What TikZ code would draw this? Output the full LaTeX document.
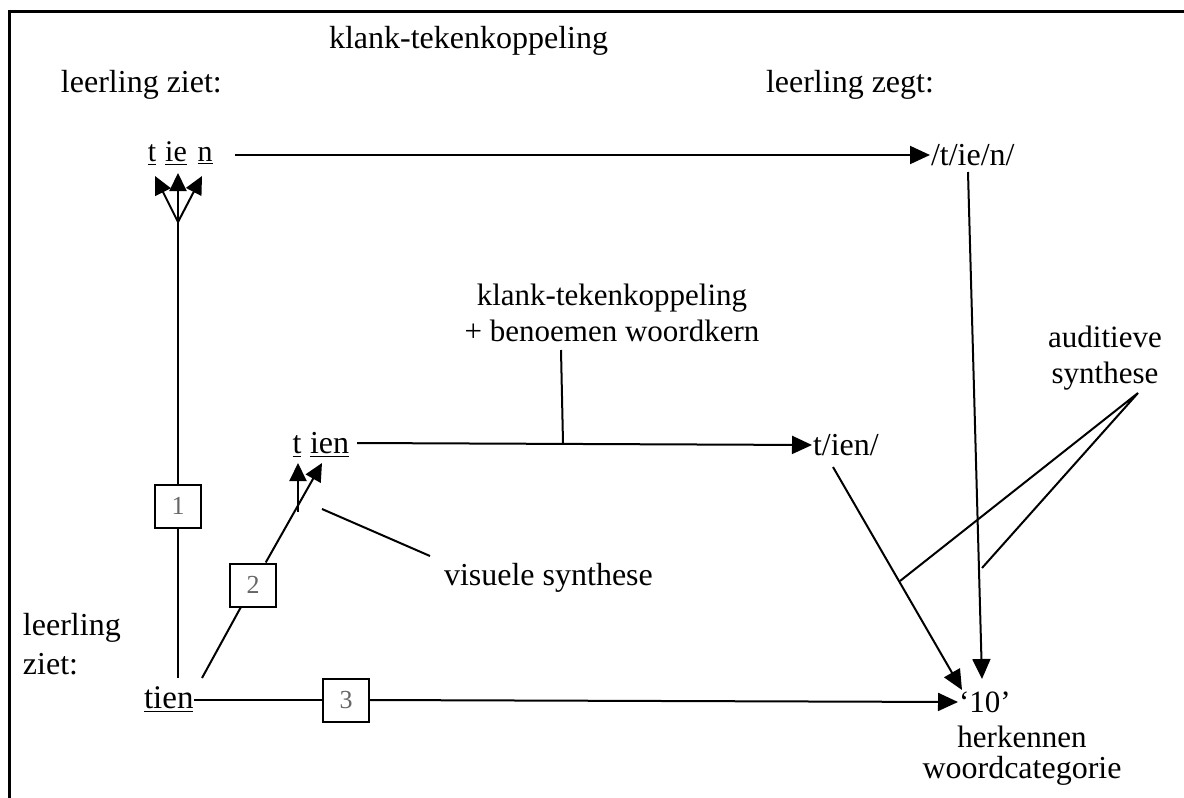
\documentclass[tikz,border=0pt]{standalone}
\usepackage{fontspec}
\setmainfont{Liberation Serif}
\usetikzlibrary{arrows.meta}
\begin{document}
\begin{tikzpicture}[x=0.5pt,y=-0.5pt, line width=1pt,
  txt/.style={inner sep=0pt, font=\fontsize{15.5}{18}\selectfont},
  toptxt/.style={inner sep=0pt, font=\fontsize{16}{19}\selectfont},
  bigtxt/.style={inner sep=0pt, font=\fontsize{16}{19.5}\selectfont},
  numbox/.style={draw, minimum width=23pt, minimum height=21.5pt, inner sep=0pt, font=\fontsize{13}{15}\selectfont, text=black!60},
  arr/.style={-{Triangle[length=10pt,width=9pt]}},
  sarr/.style={-{Triangle[length=9pt,width=8.5pt]}}]
\useasboundingbox (0,0) rectangle (1184,798);
\draw[line width=1.5pt] (9,798) -- (9,11) -- (1184,11);
% top labels
\node[toptxt, anchor=west] (klank1) at (328,41) {klank-tekenkoppeling};
\node[toptxt, anchor=west] (ziet1) at (60,85) {leerling ziet:};
\node[toptxt, anchor=west] (zegt) at (765,85) {leerling zegt:};
% t ie n
\node[txt, font=\fontsize{15}{18}\selectfont, anchor=base] (t1) at (152,161) {\underline{t}};
\node[txt, font=\fontsize{15}{18}\selectfont, anchor=base] (ie1) at (176,161) {\underline{ie}};
\node[txt, font=\fontsize{15}{18}\selectfont, anchor=base] (n1) at (205,161) {\underline{n}};
\node[bigtxt, anchor=west] (say1) at (930,155) {/t/ie/n/};
\coordinate (s1) at (235,155);
\draw[arr] (s1) -- (say1.west);
% junction and arrows up
\coordinate (j) at (178,222);
\coordinate (tt) at (155,176);
\coordinate (ti) at (178,173);
\coordinate (tn) at (202,176);
\draw[sarr] (j) -- (tt);
\draw[sarr] (j) -- (tn);
\draw[sarr] (j) -- (ti);
% box 1
\node[numbox] (b1) at (178,506) {1};
\coordinate (tienL) at (178,678);
\draw (j) -- (b1.north);
\draw (b1.south) -- (tienL);
% middle klank
\node[txt, align=center] (klank2) at (612,313) {klank-tekenkoppeling\\+ benoemen woordkern};
\node[bigtxt, anchor=base] (t2) at (297,453) {\underline{t}};
\node[bigtxt, anchor=base west] (ien2) at (309,453) {\underline{ien}};
\node[bigtxt, anchor=west] (say2) at (812,445) {t/ien/};
\coordinate (s2) at (357,443);
\coordinate (m2) at (563,443);
\draw[arr] (s2) -- (say2.west);
\coordinate (k2s) at (561,350);
\draw (k2s) -- (m2);
% arrows to t ien
\coordinate (v0) at (298,512);
\coordinate (vt) at (298,463);
\draw[sarr] (v0) -- (vt);
\node[numbox] (b2) at (253,585) {2};
\coordinate (tienR) at (202,678);
\coordinate (ti2) at (322,463);
\draw (tienR) -- (b2);
\draw[sarr] (b2) -- (ti2);
% visuele synthese
\node[bigtxt, anchor=west] (vis) at (443,578) {visuele synthese};
\coordinate (v1) at (322,509);
\coordinate (v2) at (430,556);
\draw (v1) -- (v2);
% leerling ziet bottom
\node[bigtxt, anchor=north west, align=left] (ziet2) at (22,612) {leerling\\ziet:};
\node[bigtxt, font=\fontsize{16.5}{19.5}\selectfont, anchor=west] (tien) at (143,700) {\underline{tien}};
\node[numbox] (b3) at (346,700) {3};
\draw (tien.east) -- (b3.west);
\node[txt, anchor=west] (ten) at (958,702) {‘10’};
\node[txt] (herk) at (1022,737) {herkennen};
\node[bigtxt] (wc) at (1022,771) {woordcategorie};
\draw[arr] (b3.east) -- (ten.west);
% vertical arrow from /t/ie/n/
\coordinate (d1) at (968,172);
\coordinate (d1e) at (982,679);
\draw[arr] (d1) -- (d1e);
% diagonal from t/ien/
\coordinate (d2) at (833,467);
\coordinate (d2e) at (962,690);
\draw[arr] (d2) -- (d2e);
% auditieve synthese
\node[txt, align=center] (aud) at (1105,358) {auditieve\\synthese};
\coordinate (a0) at (1138,393);
\coordinate (a1) at (900,581);
\coordinate (a2) at (982,568);
\draw (a1) -- (a0) -- (a2);
\end{tikzpicture}
\end{document}
